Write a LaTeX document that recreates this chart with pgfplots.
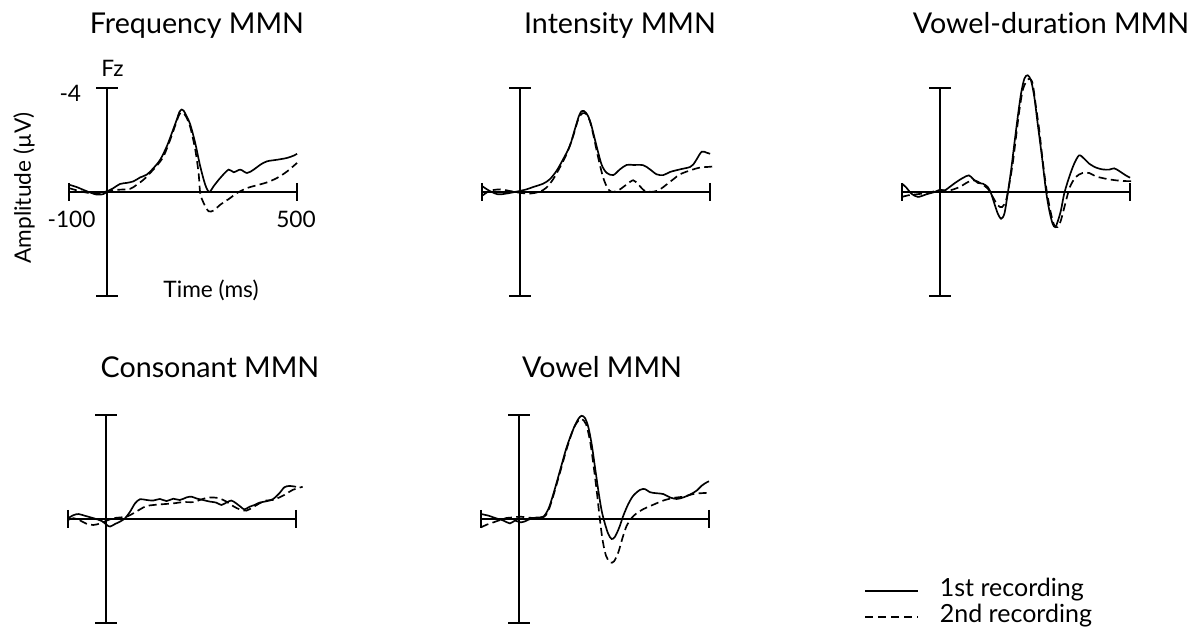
\documentclass[border=0pt]{standalone}
\usepackage{fontspec}
\setmainfont{Lato}[Ligatures=CommonOff]
\usepackage{pgfplots}
\pgfplotsset{compat=1.18}
\newcommand{\erpaxes}{%
 \draw[line width=1.2pt] (axis cs:0,-4) -- (axis cs:0,4);
 \draw[line width=1.2pt] (axis cs:-28,-4) -- (axis cs:28,-4);
 \draw[line width=1.2pt] (axis cs:-28,4) -- (axis cs:28,4);
 \draw[line width=1.2pt] (axis cs:-100,0) -- (axis cs:500,0);
 \draw[line width=1.2pt] (axis cs:-100,-0.35) -- (axis cs:-100,0.35);
 \draw[line width=1.2pt] (axis cs:500,-0.35) -- (axis cs:500,0.35);
}
\pgfplotsset{
  erp/.style={scale only axis, width=136.8pt, height=124.8pt,
    xmin=-100, xmax=500, ymin=-4, ymax=4, y dir=reverse,
    hide axis, clip=false, anchor=north west},
  first/.style={black, line width=1pt, no marks, smooth, tension=0.5},
  second/.style={black, line width=1pt, no marks, smooth, tension=0.5, dash pattern=on 4.8pt off 2.6pt},
}
\begin{document}
\begin{tikzpicture}[x=0.6pt,y=-0.6pt]
\useasboundingbox (0,0) rectangle (1199,639);
\newcommand{\lab}{\fontsize{13.6}{16}\selectfont}
\newcommand{\leg}{\fontsize{15}{18}\selectfont}
\newcommand{\ttl}{\fontsize{17.2}{20}\selectfont}
\coordinate (P1) at (69,88);
\coordinate (P2) at (482,88);
\coordinate (P3) at (902,88);
\coordinate (P4) at (68,415);
\coordinate (P5) at (481,415);
% Panel 1 Frequency
\begin{axis}[erp, at={(P1)}]
\erpaxes
\addplot[first] coordinates {(-100,-0.28)(-79.8,-0.19)(-53.4,-0.03)(-27,0.10)(-9.5,0.08)(1.9,-0.03)(16.9,-0.15)(34.4,-0.31)(52,-0.35)(69.6,-0.41)(87.2,-0.56)(104.7,-0.67)(122.3,-0.92)(139.9,-1.24)(157.5,-1.76)(172,-2.32)(184,-2.80)(190,-3.06)(196,-3.17)(202,-3.12)(208,-2.96)(219,-2.60)(232.2,-1.88)(245.3,-0.99)(258.5,-0.28)(269,0)(280.5,-0.22)(298,-0.54)(320,-0.86)(333.2,-0.76)(350.8,-0.86)(368.4,-0.73)(386,-0.86)(403.5,-1.05)(421.1,-1.18)(447.5,-1.24)(473.8,-1.31)(491.4,-1.40)(500.2,-1.47)};
\addplot[second] coordinates {(-100,-0.15)(-71,-0.03)(-35.9,0.06)(-9.5,0.01)(8.1,-0.06)(34.4,-0.09)(60.8,-0.12)(78.4,-0.28)(96,-0.47)(113.5,-0.73)(131.1,-1.01)(148.7,-1.37)(166.3,-2.01)(181,-2.62)(189,-2.94)(195,-3.06)(201,-3.03)(208,-2.90)(219,-2.50)(232.2,-1.63)(241,-0.73)(245.3,0.04)(254.1,0.42)(267.3,0.74)(280.5,0.71)(298,0.49)(324.4,0.23)(342,0.04)(368.4,-0.15)(394.7,-0.26)(421.1,-0.37)(447.5,-0.54)(473.8,-0.79)(500.2,-1.12)};
\end{axis}
% Panel 2 Intensity
\begin{axis}[erp, at={(P2)}]
\erpaxes
\addplot[first] coordinates {(-100,-0.23)(-79.8,-0.04)(-57.8,0.09)(-35.9,0.06)(-13.9,0)(-0.7,-0.04)(16.9,-0.10)(34.4,-0.19)(60.8,-0.32)(78.4,-0.49)(96,-0.81)(113.5,-1.26)(131.1,-1.77)(144.3,-2.41)(155,-2.92)(162,-3.11)(168,-3.12)(174,-3.04)(181,-2.86)(188.2,-2.54)(201.4,-1.77)(214.6,-1.06)(227.8,-0.74)(245.3,-0.65)(262.9,-0.87)(280.5,-1.04)(298,-1.04)(324.4,-1.03)(342,-0.87)(359.6,-0.68)(377.2,-0.65)(394.7,-0.77)(421.1,-0.87)(447.5,-0.96)(456.2,-1.06)(465,-1.26)(478.2,-1.55)(491.4,-1.51)(500.2,-1.47)};
\addplot[second] coordinates {(-100,0.15)(-79.8,-0.04)(-53.4,-0.10)(-27.1,-0.04)(-0.7,0.03)(25.7,0.06)(52,-0.01)(69.6,-0.17)(87.2,-0.49)(104.7,-0.94)(122.3,-1.45)(139.9,-2.15)(153.1,-2.79)(164.5,-3.03)(175,-2.99)(183.8,-2.73)(192.6,-2.22)(205.8,-1.32)(219,-0.55)(232.2,-0.10)(245.3,0)(262.9,-0.10)(280.5,-0.29)(298,-0.45)(311.2,-0.29)(328.8,-0.04)(350.8,-0.01)(368.4,-0.10)(385.9,-0.29)(403.5,-0.49)(421.1,-0.68)(447.5,-0.83)(473.8,-0.94)(500.2,-0.97)(513.4,-0.99)};
\end{axis}
% Panel 3 Vowel-duration
\begin{axis}[erp, at={(P3)}]
\erpaxes
\addplot[first] coordinates {(-100,-0.32)(-88.6,-0.17)(-75.5,0.06)(-58,0.19)(-36.1,0.09)(-14.3,0)(0.6,-0.09)(12,-0.06)(25.1,-0.19)(42.6,-0.38)(60.1,-0.54)(75.9,-0.64)(86.4,-0.51)(99.5,-0.35)(112.6,-0.32)(125.7,-0.19)(134.5,0.06)(143.2,0.45)(152,0.83)(160.7,1.03)(169.5,0.83)(178.2,0.06)(187,-0.83)(195.7,-1.86)(204.5,-2.88)(213.2,-3.78)(222,-4.36)(230.7,-4.49)(239.5,-4.29)(248.2,-3.65)(257,-2.63)(268.3,-1.35)(278.8,-0.06)(287.6,0.71)(296.3,1.22)(303.3,1.35)(309.4,1.15)(318.2,0.71)(326.9,0.06)(340.1,-0.58)(353.2,-1.09)(366.3,-1.41)(379.4,-1.28)(392.6,-1.09)(410.1,-0.94)(427.6,-0.87)(445.1,-0.86)(458.2,-0.91)(471.3,-0.81)(488.8,-0.64)(500.2,-0.55)};
\addplot[second] coordinates {(-100,0.19)(-84.3,0.13)(-62.4,0.09)(-36.1,0.04)(-9.9,-0.04)(7.6,-0.06)(25.1,-0.06)(51.4,-0.19)(73.2,-0.38)(90.7,-0.45)(108.2,-0.32)(125.7,-0.13)(138.8,0.19)(152,0.51)(163.3,0.58)(173.8,0.32)(182.6,-0.32)(191.3,-1.09)(200.1,-2.12)(208.8,-3.14)(217.6,-3.91)(226.3,-4.23)(235.1,-4.36)(243.8,-4.17)(252.6,-3.27)(261.3,-2.37)(270.1,-1.22)(280.6,-0.06)(292,0.83)(300.7,1.28)(309.4,1.35)(318.2,1.09)(329.6,0.45)(341.8,-0.19)(357.6,-0.58)(375.1,-0.73)(392.6,-0.73)(410.1,-0.60)(436.3,-0.51)(462.6,-0.45)(488.8,-0.42)(510.7,-0.42)};
\end{axis}
% Panel 4 Consonant
\begin{axis}[erp, at={(P4)}]
\erpaxes
\addplot[first] coordinates {(-100,-0.03)(-85.2,-0.15)(-72.1,-0.19)(-54.6,-0.12)(-32.8,-0.03)(-10.9,0.08)(2.2,0.23)(10.9,0.29)(24,0.19)(37.1,0.10)(50.2,-0.03)(63.3,-0.28)(76.4,-0.60)(89.5,-0.76)(107,-0.73)(124.5,-0.71)(141.9,-0.77)(159.4,-0.69)(176.9,-0.78)(194.3,-0.73)(211.8,-0.83)(224.9,-0.86)(238,-0.79)(255.5,-0.73)(272.9,-0.67)(290.4,-0.63)(303.5,-0.54)(316.6,-0.63)(329.7,-0.71)(342.8,-0.60)(355.9,-0.45)(364.6,-0.37)(377.7,-0.47)(390.8,-0.54)(403.9,-0.63)(421.4,-0.68)(438.9,-0.76)(456.3,-0.99)(469.4,-1.22)(482.5,-1.27)(500,-1.24)};
\addplot[second] coordinates {(-100,0.04)(-85.2,-0.03)(-67.7,0.06)(-50.2,0.19)(-32.8,0.23)(-15.3,0.17)(2.2,0.06)(19.7,-0.03)(37.1,-0.06)(54.6,-0.09)(72.1,-0.22)(89.5,-0.37)(107,-0.50)(133.2,-0.55)(159.4,-0.58)(176.9,-0.60)(203.1,-0.65)(229.3,-0.65)(246.7,-0.73)(264.2,-0.81)(281.7,-0.83)(299.1,-0.79)(316.6,-0.67)(334.1,-0.50)(351.5,-0.37)(369,-0.32)(386.5,-0.45)(403.9,-0.60)(421.4,-0.71)(438.9,-0.73)(456.3,-0.83)(473.8,-0.96)(491.3,-1.12)(517.5,-1.24)};
\end{axis}
% Panel 5 Vowel
\begin{axis}[erp, at={(P5)}]
\erpaxes
\addplot[first] coordinates {(-100,-0.19)(-80.7,-0.13)(-63.2,-0.04)(-41.2,0.06)(-23.7,0.17)(-10.5,0.06)(2.6,0.13)(15.8,0.09)(28.9,0)(46.5,-0.06)(64,-0.09)(77.2,-0.38)(90.4,-0.96)(107.9,-1.86)(125.4,-2.76)(143,-3.46)(156.1,-3.85)(164.9,-3.97)(173.7,-3.88)(182.5,-3.53)(191.2,-2.88)(200,-1.99)(208.8,-1.09)(217.5,-0.32)(226.3,0.19)(235.1,0.58)(243.9,0.77)(252.6,0.68)(264,0.32)(274.6,-0.13)(287.7,-0.58)(300.9,-0.90)(318.4,-1.12)(331.6,-1.15)(344.7,-1.03)(362.3,-0.99)(379.8,-0.96)(397.4,-0.83)(414.9,-0.77)(432.5,-0.83)(450,-0.94)(467.5,-1.09)(480.7,-1.28)(493.9,-1.41)(500,-1.45)};
\addplot[second] coordinates {(-100,0.32)(-85.1,0.22)(-67.5,0.13)(-50,0.04)(-32.5,-0.04)(-14.9,-0.06)(2.6,-0.09)(20.2,-0.06)(37.7,-0.04)(64,-0.06)(77.2,-0.32)(90.4,-0.90)(107.9,-1.79)(125.4,-2.69)(143,-3.46)(156.1,-3.78)(164.9,-3.85)(176.3,-3.65)(186.8,-3.01)(195.6,-2.12)(204.4,-1.09)(213.2,0.06)(220.2,0.83)(228.9,1.41)(239.5,1.67)(250,1.63)(261.4,1.28)(272.8,0.71)(283.3,0.26)(296.5,-0.04)(309.6,-0.22)(327.2,-0.38)(353.5,-0.55)(379.8,-0.71)(406.1,-0.81)(432.5,-0.86)(458.8,-0.96)(476.3,-0.99)(502.6,-1.01)};
\end{axis}
% Titles
\node[anchor=base, font=\ttl] at (197,34) {Frequency MMN};
\node[anchor=base, font=\ttl] at (620,34) {Intensity MMN};
\node[anchor=base, font=\ttl] at (1051,34) {Vowel-duration MMN};
\node[anchor=base, font=\ttl] at (210,377) {Consonant MMN};
\node[anchor=base, font=\ttl] at (602,377) {Vowel MMN};
% Panel 1 labels
\node[font=\lab] at (112.5,68) {Fz};
\node[font=\lab, anchor=east] at (87,93) {-4};
\node[font=\lab] at (71.5,219) {-100};
\node[font=\lab] at (296,219) {500};
\node[font=\lab] at (211,290) {Time (ms)};
\node[font=\lab, rotate=90] at (24,188) {Amplitude (µV)};
% Legend
\draw[line width=1pt] (865,591) -- (918,591);
\draw[line width=1pt, dash pattern=on 4.8pt off 3pt] (865,617) -- (918,617);
\node[font=\leg, anchor=west] at (934,590) {1st recording};
\node[font=\leg, anchor=west] at (934,616) {2nd recording};
\end{tikzpicture}
\end{document}
